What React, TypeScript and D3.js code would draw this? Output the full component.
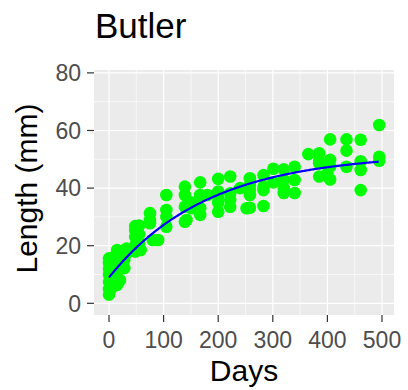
import React from "react";
import * as d3 from "d3";

// Sampling day and fish length (mm) for each measured individual
const days: number[] = [
  0, 0, 0, 0, 0, 0, 0,
  2, 2, 2,
  8, 8, 8,
  15, 15, 15, 15, 15,
  20, 20,
  28, 28, 28,
  32, 32,
  48, 48, 48, 48, 48,
  55, 55, 55,
  58,
  75, 75, 75,
  80, 90,
  105, 105, 105, 105,
  139, 139, 139, 139,
  142,
  151, 151,
  167, 167, 167, 167, 167,
  180,
  200, 200, 200, 200, 200,
  222, 222, 222, 222,
  240, 252,
  258, 258, 258, 258, 258,
  283, 283, 283, 283,
  301, 301,
  320, 320, 320, 320,
  340, 340, 340,
  365,
  385, 385, 385, 385,
  400,
  405, 405, 405, 405,
  435, 435, 435,
  461, 461, 461, 461,
  495, 495, 495,
];

const lengths: number[] = [
  3, 5, 7.5, 10, 12, 14, 15.6,
  4.5, 9, 13,
  6, 11, 16,
  6.4, 9, 13, 17, 18.5,
  8, 15,
  12.2, 15, 18,
  17.4, 19,
  18, 20, 23, 25.4, 26.8,
  21, 24, 27,
  18.5,
  28.9, 31.3, 27.8,
  22, 22,
  37.6, 32.4, 26.6, 30,
  40.5, 37.6, 33.5, 28.3,
  28.9,
  33, 35,
  42, 37.6, 37, 30.7, 33,
  37.6,
  43.2, 38.8, 37, 31.8, 35,
  44, 38.2, 33.5, 36,
  40, 33,
  43.4, 39.3, 37.6, 33.2, 41,
  44.5, 40.5, 33.8, 39.3,
  46.7, 42,
  46.5, 42.8, 38.3, 40,
  47.4, 42.8, 38.3,
  51.8,
  52.1, 48.6, 44, 49.5,
  45,
  56.9, 49.8, 43, 47.5,
  56.9, 53, 47.4,
  56.8, 49.3, 46.3, 39.3,
  61.9, 50.9, 49.5,
];

// von Bertalanffy growth fit: L(t) = Linf * (1 - exp(-K * (t - t0)))
const vbLinf = 52;
const vbK = 0.0055;
const vbT0 = -34.6;

const xTicks = [0, 100, 200, 300, 400, 500];
const yTicks = [0, 20, 40, 60, 80];

const W = 408;
const H = 390;
const panel = { left: 94, right: 394, top: 70, bottom: 315 };

export default function App() {
  const x = d3.scaleLinear().domain([-27.5, 522]).range([panel.left, panel.right]);
  const y = d3.scaleLinear().domain([-4.06, 81.0]).range([panel.bottom, panel.top]);

  const xMinor = xTicks.slice(0, -1).map((t, i) => (t + xTicks[i + 1]) / 2);
  const yMinor = yTicks.slice(0, -1).map((t, i) => (t + yTicks[i + 1]) / 2);

  const maxDay = d3.max(days) as number;
  const fitDays = d3.range(0, maxDay + 0.5, 2);
  const fitPts: [number, number][] = fitDays.map((t) => [
    t,
    vbLinf * (1 - Math.exp(-vbK * (t - vbT0))),
  ]);
  const line = d3
    .line<[number, number]>()
    .x((d) => x(d[0]))
    .y((d) => y(d[1]))
    .curve(d3.curveLinear);

  const font = "'Liberation Sans', Arial, Helvetica, sans-serif";

  return (
    <svg
      width={W}
      height={H}
      style={{ position: "absolute", left: 0, top: 0, display: "block" }}
      fontFamily={font}
    >
      <rect x={0} y={0} width={W} height={H} fill="#ffffff" />
      <text x={95} y={38} fontSize={35} fill="#000000">
        Butler
      </text>

      {/* panel */}
      <rect
        x={panel.left}
        y={panel.top}
        width={panel.right - panel.left}
        height={panel.bottom - panel.top}
        fill="#EBEBEB"
      />
      {xMinor.map((t) => (
        <line key={"xm" + t} x1={x(t)} x2={x(t)} y1={panel.top} y2={panel.bottom} stroke="#ffffff" strokeWidth={0.6} />
      ))}
      {yMinor.map((t) => (
        <line key={"ym" + t} x1={panel.left} x2={panel.right} y1={y(t)} y2={y(t)} stroke="#ffffff" strokeWidth={0.6} />
      ))}
      {xTicks.map((t) => (
        <line key={"xg" + t} x1={x(t)} x2={x(t)} y1={panel.top} y2={panel.bottom} stroke="#ffffff" strokeWidth={1.2} />
      ))}
      {yTicks.map((t) => (
        <line key={"yg" + t} x1={panel.left} x2={panel.right} y1={y(t)} y2={y(t)} stroke="#ffffff" strokeWidth={1.2} />
      ))}

      {/* observations */}
      {days.map((d, i) => (
        <circle key={"p" + i} cx={x(d)} cy={y(lengths[i])} r={6.3} fill="#00FF00" />
      ))}

      {/* growth curve */}
      <path d={line(fitPts) || ""} fill="none" stroke="#0000FF" strokeWidth={2.2} />

      {/* axes */}
      {xTicks.map((t) => (
        <g key={"xt" + t}>
          <line x1={x(t)} x2={x(t)} y1={panel.bottom} y2={panel.bottom + 7} stroke="#333333" strokeWidth={1.2} />
          <text x={x(t)} y={348} fontSize={23} fill="#4D4D4D" textAnchor="middle">
            {t}
          </text>
        </g>
      ))}
      {yTicks.map((t) => (
        <g key={"yt" + t}>
          <line x1={panel.left - 7} x2={panel.left} y1={y(t)} y2={y(t)} stroke="#333333" strokeWidth={1.2} />
          <text x={81} y={y(t)} dy="0.36em" fontSize={23} fill="#4D4D4D" textAnchor="end">
            {t}
          </text>
        </g>
      ))}
      <text x={(panel.left + panel.right) / 2} y={381} fontSize={30} fill="#000000" textAnchor="middle">
        Days
      </text>
      <text
        transform={`translate(36.5, 188.5) rotate(-90)`}
        fontSize={30}
        fill="#000000"
        textAnchor="middle"
      >
        Length (mm)
      </text>
    </svg>
  );
}
